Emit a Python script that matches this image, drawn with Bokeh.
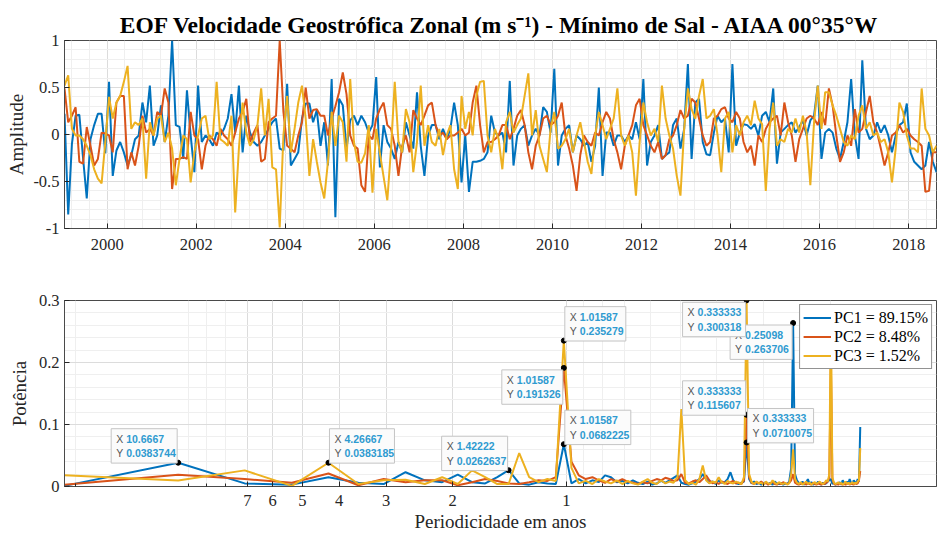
from bokeh.plotting import figure
from bokeh.layouts import column
from bokeh.models import (Range1d, FixedTicker, Label, Legend, LegendItem,
                          CustomJSTickFormatter)
from bokeh.embed import file_html
from bokeh.resources import INLINE

# ---------------- data ----------------
TITLE = "EOF Velocidade Geostrófica Zonal (m s\u207b\u00b9) - Mínimo de Sal - AIAA 00°35°W"
start_year = 1999

pc1 = [0.22, -0.85, -0.10, 0.20, 0.21, -0.25, -0.68, -0.05, 0.10, 0.22, 0.22, -0.20,
       0.56, -0.44, -0.17, -0.08, -0.19, -0.33, -0.22, -0.05, -0.01, 0.34, 0.13, 0.52,
       -0.12, -0.01, 0.31, -0.08, 0.20, 1.00, 0.10, 0.08, -0.26, 0.47, -0.01, -0.40,
       0.52, -0.08, -0.01, -0.05, -0.12, 0.02, -0.01, 0.06, 0.17, 0.43, 0.02, 0.52,
       -0.19, 0.20, 0.02, -0.08, -0.12, -0.08, -0.01, 0.06, 0.13, 0.17, -0.15, -0.17,
       0.54, -0.33, -0.26, -0.19, 0.17, 0.33, 0.33, 0.13, 0.26, -0.12, 0.13, -0.33,
       0.59, -0.88, 0.38, 0.31, -0.15, 0.15, 0.20, 0.10, 0.20, 0.13, 0.02, 0.10,
       0.61, -0.35, 0.10, -0.08, -0.15, -0.26, -0.08, -0.19, 0.13, -0.01, -0.15, 0.45,
       -0.12, -0.44, -0.01, 0.10, 0.10, -0.05, 0.06, -0.05, 0.06, 0.34, 0.10, -0.51,
       -0.01, -0.61, -0.29, -0.29, -0.28, -0.26, -0.19, 0.20, 0.02, -0.01, 0.02, -0.19,
       0.57, -0.33, -0.01, 0.06, 0.10, -0.12, -0.01, 0.06, -0.01, 0.29, 0.24, 0.02,
       0.70, -0.33, -0.01, 0.06, 0.10, -0.19, -0.01, -0.05, -0.12, -0.08, -0.29, -0.12,
       0.50, -0.44, 0.02, 0.02, -0.12, -0.01, -0.01, -0.08, -0.01, -0.05, 0.13, -0.05,
       0.59, -0.33, -0.08, -0.01, 0.10, -0.26, -0.22, -0.19, 0.10, 0.17, -0.15, 0.06,
       0.75, -0.26, 0.34, 0.38, -0.08, -0.21, -0.22, 0.02, 0.20, 0.13, 0.17, -0.19,
       0.75, -0.12, 0.02, 0.11, 0.10, 0.06, 0.11, -0.01, 0.20, 0.24, 0.13, 0.49,
       -0.31, 0.02, 0.06, 0.10, 0.13, 0.02, 0.08, 0.15, -0.01, 0.15, 0.20, 0.52,
       -0.26, 0.02, 0.06, 0.02, -0.15, -0.26, -0.08, 0.13, 0.59, -0.01, -0.26, 0.79,
       0.06, -0.05, -0.01, 0.13, 0.02, 0.10, -0.01, -0.19, -0.01, 0.10, 0.13, 0.33,
       -0.19, -0.29, -0.33, -0.37, -0.33, -0.08, -0.29, -0.40]

pc2 = [0.49, 0.13, 0.20, 0.29, -0.29, -0.31, 0.08, -0.12, -0.33, -0.26, 0.02, 0.01,
       -0.01, -0.19, 0.34, 0.41, 0.41, -0.37, -0.19, -0.33, -0.12, 0.20, 0.02, 0.06,
       -0.01, 0.24, 0.20, 0.49, 0.34, -0.58, -0.26, -0.26, -0.24, -0.26, 0.24, -0.01,
       -0.05, -0.37, -0.12, -0.01, -0.05, -0.12, 0.06, -0.01, -0.05, -0.12, 0.02, 0.17,
       0.24, 0.38, -0.08, 0.02, 0.10, -0.29, -0.26, 0.13, 0.17, 0.20, 1.00, 0.24,
       -0.12, -0.15, -0.19, -0.01, 0.13, 0.50, 0.17, 0.26, 0.27, 0.20, 0.20, -0.01,
       0.17, 0.30, 0.45, 0.66, 0.43, -0.01, -0.12, -0.15, -0.54, -0.61, -0.01, -0.05,
       0.17, 0.27, 0.34, 0.10, 0.06, -0.12, -0.44, -0.12, -0.01, -0.19, 0.26, 0.17,
       0.10, 0.20, 0.31, 0.34, 0.10, -0.01, 0.02, -0.05, -0.01, -0.01, 0.02, 0.06,
       -0.01, 0.02, 0.34, 0.52, 0.10, -0.19, -0.08, -0.08, -0.05, -0.01, 0.10, 0.10,
       -0.05, 0.06, 0.20, 0.26, 0.10, -0.19, -0.37, -0.12, -0.01, 0.17, 0.20, 0.10,
       0.13, 0.20, 0.34, -0.01, -0.15, -0.33, -0.60, -0.22, -0.01, -0.08, -0.12, 0.02,
       -0.01, 0.13, 0.24, 0.17, -0.05, -0.19, -0.37, -0.12, -0.01, 0.10, 0.31, 0.38,
       0.10, -0.01, -0.12, -0.19, -0.08, -0.26, -0.22, -0.05, -0.01, 0.10, 0.26, 0.17,
       0.20, 0.38, 0.34, 0.17, -0.01, -0.12, -0.08, 0.17, 0.20, 0.27, 0.29, 0.17,
       0.13, 0.24, 0.17, -0.08, -0.19, -0.12, -0.33, -0.01, -0.08, 0.06, 0.13, 0.17,
       0.20, -0.01, 0.34, 0.13, -0.01, -0.29, -0.05, 0.06, 0.17, 0.20, 0.17, 0.10,
       0.24, 0.10, 0.49, 0.31, -0.01, -0.29, -0.19, -0.01, -0.12, 0.27, 0.02, 0.06,
       0.24, 0.41, 0.13, 0.02, -0.15, -0.33, -0.19, -0.01, 0.02, 0.10, 0.02, 0.06,
       -0.01, -0.05, -0.08, -0.12, -0.61, -0.60, -0.19, -0.19]

pc3 = [0.52, 0.63, 0.06, -0.01, -0.01, -0.05, -0.12, -0.22, -0.37, -0.47, -0.52, -0.08,
       0.40, 0.17, 0.34, 0.41, 0.56, 0.73, 0.06, 0.13, 0.10, 0.17, -0.47, 0.13,
       -0.01, 0.17, 0.20, -0.08, 0.02, -0.15, -0.54, -0.26, -0.01, -0.05, -0.51, -0.19,
       -0.01, 0.17, 0.20, -0.05, -0.01, 0.56, -0.05, -0.08, -0.12, 0.20, -0.83, -0.15,
       0.34, 0.02, -0.12, -0.05, 0.10, 0.49, -0.01, 0.38, -0.35, -0.37, -0.99, -0.01,
       0.41, -0.19, 0.06, 0.34, 0.52, 0.17, -0.44, -0.05, -0.29, -0.51, -0.68, -0.29,
       0.24, -0.12, 0.20, 0.13, -0.29, 0.59, -0.08, -0.29, -0.30, -0.20, 0.10, -0.62,
       0.06, -0.20, -0.45, -0.70, -0.15, 0.56, -0.08, -0.19, 0.27, 0.13, -0.40, -0.08,
       0.52, -0.12, 0.10, -0.08, -0.12, 0.06, -0.22, -0.01, 0.10, -0.37, -0.58, 0.41,
       0.06, 0.24, -0.01, 0.41, 0.56, 0.57, -0.01, -0.19, 0.06, -0.05, -0.37, 0.13,
       0.24, 0.02, 0.10, 0.17, 0.41, 0.65, -0.01, 0.26, -0.12, -0.26, -0.40, 0.06,
       0.24, -0.15, -0.12, -0.05, 0.06, -0.19, -0.01, 0.13, -0.08, -0.29, -0.42, -0.01,
       0.24, 0.10, -0.05, 0.06, 0.17, 0.49, -0.01, -0.12, -0.01, -0.19, -0.65, -0.08,
       0.34, 0.13, -0.01, 0.06, -0.08, 0.52, 0.17, -0.01, -0.15, -0.44, -0.65, 0.06,
       0.49, 0.27, 0.17, 0.41, 0.59, 0.17, 0.20, 0.27, -0.01, -0.40, 0.17, 0.24,
       -0.19, 0.10, -0.01, 0.13, 0.20, 0.10, 0.36, 0.17, 0.11, -0.60, 0.06, 0.34,
       -0.12, -0.05, -0.08, 0.06, 0.02, 0.17, 0.02, 0.20, 0.02, -0.54, 0.13, 0.52,
       0.06, 0.45, 0.45, 0.31, 0.20, 0.06, -0.08, -0.12, -0.01, -0.05, 0.20, 0.31,
       0.06, 0.13, -0.01, 0.02, -0.08, -0.05, -0.19, -0.51, -0.15, 0.34, 0.24, -0.01,
       -0.15, -0.15, -0.19, 0.49, 0.06, -0.01, -0.19, -0.12]

# spectrum: frequency index k = 1..128 of a 256-point FFT of monthly data
nfft = 256
harmonics = list(range(1, 129))
periods = [nfft / (12.0 * k) for k in harmonics]   # years

pow1 = [0.001, 0.0383744, 0.005, 0.003, 0.015, 0.006, 0.004, 0.023, 0.010, 0.007,
        0.019, 0.007, 0.005, 0.015, 0.0262637, 0.005, 0.003, 0.007, 0.005, 0.004,
        0.0682225, 0.005, 0.012, 0.005, 0.010, 0.007, 0.018, 0.015, 0.007, 0.009,
        0.005, 0.010, 0.006, 0.004, 0.008, 0.003, 0.005, 0.009, 0.006, 0.010,
        0.014, 0.018, 0.006, 0.004, 0.003, 0.005, 0.008, 0.012, 0.020, 0.012,
        0.006, 0.008, 0.004, 0.010, 0.006, 0.007, 0.012, 0.023, 0.010, 0.005,
        0.004, 0.006, 0.008, 0.0710075, 0.012, 0.005, 0.008, 0.004, 0.006, 0.003,
        0.005, 0.007, 0.004, 0.006, 0.003, 0.008, 0.005, 0.004, 0.006, 0.003,
        0.005, 0.004, 0.008, 0.030, 0.263706, 0.020, 0.010, 0.006, 0.004, 0.008,
        0.003, 0.006, 0.012, 0.004, 0.007, 0.003, 0.005, 0.004, 0.008, 0.005,
        0.003, 0.006, 0.004, 0.005, 0.008, 0.010, 0.012, 0.004, 0.006, 0.003,
        0.005, 0.004, 0.007, 0.003, 0.010, 0.006, 0.004, 0.008, 0.005, 0.012,
        0.006, 0.004, 0.010, 0.007, 0.005, 0.012, 0.008, 0.096]

pow2 = [0.003, 0.019, 0.012, 0.006, 0.021, 0.002, 0.012, 0.007, 0.010, 0.010,
        0.002, 0.007, 0.012, 0.009, 0.005, 0.004, 0.007, 0.010, 0.009, 0.015,
        0.191326, 0.040, 0.018, 0.012, 0.015, 0.010, 0.006, 0.012, 0.008, 0.012,
        0.008, 0.006, 0.004, 0.007, 0.005, 0.009, 0.012, 0.010, 0.014, 0.012,
        0.009, 0.010, 0.020, 0.006, 0.005, 0.008, 0.010, 0.007, 0.012, 0.018,
        0.010, 0.005, 0.007, 0.004, 0.008, 0.006, 0.004, 0.007, 0.009, 0.005,
        0.006, 0.004, 0.010, 0.115607, 0.015, 0.006, 0.004, 0.007, 0.005, 0.008,
        0.004, 0.006, 0.003, 0.005, 0.008, 0.004, 0.003, 0.006, 0.004, 0.007,
        0.005, 0.004, 0.006, 0.010, 0.020, 0.006, 0.004, 0.003, 0.005, 0.004,
        0.006, 0.003, 0.005, 0.004, 0.003, 0.006, 0.004, 0.003, 0.005, 0.004,
        0.003, 0.005, 0.004, 0.006, 0.008, 0.015, 0.200, 0.012, 0.005, 0.003,
        0.004, 0.003, 0.005, 0.004, 0.003, 0.005, 0.003, 0.004, 0.006, 0.003,
        0.005, 0.004, 0.003, 0.006, 0.004, 0.005, 0.010, 0.025]

pow3 = [0.018, 0.0097, 0.026, 0.001, 0.0383185, 0.004, 0.010, 0.011, 0.004, 0.015,
        0.004, 0.026, 0.015, 0.004, 0.004, 0.054, 0.015, 0.007, 0.012, 0.009,
        0.235279, 0.030, 0.005, 0.009, 0.004, 0.012, 0.008, 0.005, 0.010, 0.004,
        0.009, 0.005, 0.003, 0.008, 0.012, 0.006, 0.004, 0.010, 0.005, 0.008,
        0.006, 0.015, 0.125, 0.010, 0.004, 0.006, 0.003, 0.012, 0.034, 0.010,
        0.005, 0.008, 0.006, 0.015, 0.007, 0.004, 0.009, 0.006, 0.005, 0.008,
        0.006, 0.004, 0.015, 0.300318, 0.020, 0.007, 0.004, 0.008, 0.005, 0.006,
        0.003, 0.008, 0.005, 0.004, 0.010, 0.006, 0.004, 0.007, 0.005, 0.004,
        0.006, 0.003, 0.005, 0.020, 0.060, 0.012, 0.006, 0.004, 0.007, 0.003,
        0.005, 0.008, 0.004, 0.006, 0.003, 0.005, 0.007, 0.004, 0.006, 0.008,
        0.005, 0.004, 0.006, 0.010, 0.008, 0.020, 0.290, 0.015, 0.006, 0.004,
        0.005, 0.007, 0.004, 0.006, 0.003, 0.005, 0.008, 0.004, 0.006, 0.004,
        0.005, 0.007, 0.004, 0.006, 0.005, 0.008, 0.010, 0.062]

legend_labels = ["PC1 = 89.15%", "PC2 = 8.48%", "PC3 = 1.52%"]
colors = ["#0072BD", "#D95319", "#EDB120"]
year_ticks = [2000, 2002, 2004, 2006, 2008, 2010, 2012, 2014, 2016, 2018]
amp_ticks = [-1, -0.5, 0, 0.5, 1]
power_ticks = [0, 0.1, 0.2, 0.3]
period_ticks = [7, 6, 5, 4, 3, 2, 1]
period_minor = [20, 10, 9, 8, 7, 6, 5, 4, 3, 2, 1, 0.9, 0.8, 0.7, 0.6, 0.5, 0.4, 0.3, 0.2]

# data tips: (series index, harmonic k, side, box width px) -- drawn in this order
tips = [(0, 2, "ul", 66), (2, 5, "ur", 65), (0, 15, "ul", 66),
        (2, 21, "ur", 61), (1, 21, "dl", 61), (0, 21, "ur", 66),
        (0, 85, "dl", 62), (2, 64, "dl", 63), (1, 64, "ul", 63), (0, 64, "ur", 66)]

months = [start_year + (i + 0.5) / 12.0 for i in range(len(pc1))]
powers = [pow1, pow2, pow3]

# ---------------- styling helpers ----------------
SERIF = "Liberation Serif"
INK = "#262626"
GRID = "#dcdcdc"
MINOR = "#efefef"
W_FIG = 937


def style_axis(ax, minor=False):
    ax.major_label_text_font = SERIF
    ax.major_label_text_font_size = "16.5px"
    ax.major_label_text_color = INK
    ax.axis_line_color = "#4a4a4a"
    ax.major_tick_in = 5
    ax.major_tick_out = 0
    ax.major_tick_line_color = INK
    ax.minor_tick_in = 3 if minor else 0
    ax.minor_tick_out = 0
    ax.minor_tick_line_color = INK
    ax.axis_label_text_font = SERIF
    ax.axis_label_text_font_size = "19px"
    ax.axis_label_text_font_style = "normal"
    ax.axis_label_text_color = INK
    ax.formatter = CustomJSTickFormatter(code="return tick.toString();")


def style_grid(p):
    for g in (p.xgrid[0], p.ygrid[0]):
        g.grid_line_color = GRID
        g.minor_grid_line_color = MINOR


# ---------------- top: time series ----------------
p1 = figure(width=W_FIG, height=263, output_backend="svg", toolbar_location=None,
            x_range=Range1d(months[0], months[-1]), y_range=Range1d(-1, 1),
            min_border_left=64, min_border_right=1, min_border_top=40,
            min_border_bottom=35, title=TITLE)
p1.title.align = "center"
p1.title.text_font = SERIF
p1.title.text_font_size = "23.5px"
p1.title.text_font_style = "bold"
p1.title.text_color = "#000000"
p1.title.standoff = 5
p1.outline_line_color = "#4a4a4a"

p1.xaxis.ticker = FixedTicker(ticks=year_ticks,
                              minor_ticks=[round(1999.2 + 0.4 * j, 1) for j in range(49)])
p1.yaxis.ticker = FixedTicker(ticks=amp_ticks,
                              minor_ticks=[round(-1 + 0.1 * j, 1) for j in range(21)])
style_axis(p1.xaxis[0])
style_axis(p1.yaxis[0])
p1.xaxis.major_label_standoff = 10
p1.yaxis.major_label_standoff = 5
p1.yaxis.axis_label = "Amplitude"
p1.yaxis.axis_label_standoff = 3
style_grid(p1)

for ser, c in zip([pc1, pc2, pc3], colors):
    p1.line(months, ser, line_color=c, line_width=2)

# ---------------- bottom: spectrum ----------------
p2 = figure(width=W_FIG, height=275, output_backend="svg", toolbar_location=None,
            x_axis_type="log", x_range=Range1d(periods[0], 0.1047),
            y_range=Range1d(0, 0.3),
            min_border_left=64, min_border_right=1, min_border_top=37,
            min_border_bottom=52)
p2.outline_line_color = "#4a4a4a"
p2.xaxis.ticker = FixedTicker(ticks=period_ticks, minor_ticks=period_minor)
p2.yaxis.ticker = FixedTicker(ticks=power_ticks,
                              minor_ticks=[round(0.02 * j, 2) for j in range(16)])
style_axis(p2.xaxis[0], minor=True)
style_axis(p2.yaxis[0])
p2.xaxis.major_label_standoff = 8
p2.xaxis.axis_label = "Periodicidade em anos"
p2.xaxis.axis_label_standoff = 2
p2.yaxis.major_label_standoff = 5
p2.yaxis.axis_label = "Potência"
p2.yaxis.axis_label_standoff = 6
style_grid(p2)

renderers = []
for pw, c in zip(powers, colors):
    renderers.append(p2.line(periods, pw, line_color=c, line_width=2))

# data tips
tx, ty = [], []
H = 33
for s, k, side, W in tips:
    px = periods[k - 1]
    py = powers[s][k - 1]
    tx.append(px)
    ty.append(py)
    if side == "ur":
        ox, oy = 1, H + 1
    elif side == "ul":
        ox, oy = -W - 1, H + 1
    else:  # "dl"
        ox, oy = -W - 1, -2
    box = Label(x=px, y=py, x_offset=ox, y_offset=oy, anchor="top_left",
                text="X\nY", text_font="Liberation Sans", text_font_size="10.5px",
                text_color="#555555", background_fill_color="#fbfbfb",
                border_line_color="#c4c4c4", border_line_width=1,
                padding=dict(left=5, right=W - 12, top=4, bottom=4))
    vals = Label(x=px, y=py, x_offset=ox + 15, y_offset=oy - 4, anchor="top_left",
                 text="%.6g\n%.6g" % (px, py), text_font="Liberation Sans",
                 text_font_size="10.5px", text_font_style="bold",
                 text_color="#2E9AD0")
    p2.add_layout(box)
    p2.add_layout(vals)

p2.scatter(tx, ty, size=5, color="black")

legend = Legend(items=[LegendItem(label=lab, renderers=[r])
                       for lab, r in zip(legend_labels, renderers)],
                location="top_right", margin=4, padding=3, spacing=0,
                label_standoff=3, glyph_width=28, glyph_height=19,
                label_text_font=SERIF, label_text_font_size="16px",
                label_text_color="#000000", border_line_color=INK,
                border_line_width=1, background_fill_alpha=1.0)
p2.add_layout(legend)

layout = column(p1, p2, spacing=0)
open("out.html", "w").write(file_html(layout, INLINE))
